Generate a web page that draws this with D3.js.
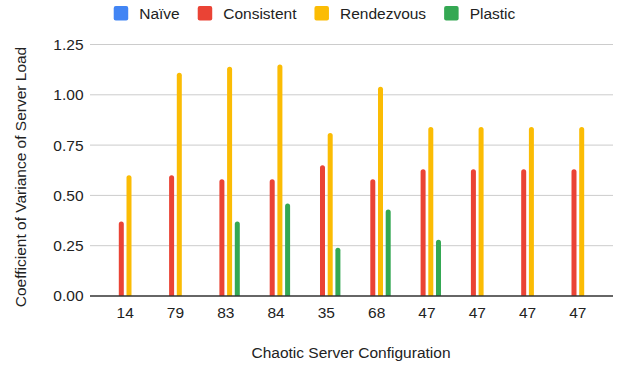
<!DOCTYPE html>
<html>
<head>
<meta charset="utf-8">
<script src="https://cdn.jsdelivr.net/npm/d3@7"></script>
<style>
  html, body { margin: 0; padding: 0; background: #fff; }
  svg { display: block; font-family: "Liberation Sans", Arial, sans-serif; }
</style>
</head>
<body>
<svg id="chart" width="626" height="366"></svg>
<script>
const categories = ["14", "79", "83", "84", "35", "68", "47", "47", "47", "47"];
const seriesNames = ["Naïve", "Consistent", "Rendezvous", "Plastic"];
const naive      = [0, 0, 0, 0, 0, 0, 0, 0, 0, 0];
const consistent = [0.37, 0.60, 0.58, 0.58, 0.65, 0.58, 0.63, 0.63, 0.63, 0.63];
const rendezvous = [0.60, 1.11, 1.14, 1.15, 0.81, 1.04, 0.84, 0.84, 0.84, 0.84];
const plastic    = [0, 0, 0.37, 0.46, 0.24, 0.43, 0.28, 0, 0, 0];
const yTicks = [0, 0.25, 0.5, 0.75, 1.0, 1.25];
const colors = ["#4285F4", "#EA4335", "#FBBC04", "#34A853"];
const yTitle = "Coefficient of Variance of Server Load";
const xTitle = "Chaotic Server Configuration";

const seriesValues = [naive, consistent, rendezvous, plastic];
const svg = d3.select("#chart");
const fontSize = 15.5;
const ff = "'Liberation Sans', Arial, sans-serif";

const gridLeft = 90, gridRight = 613;
const x0 = d3.scaleBand().domain(d3.range(categories.length)).range([100, 603]).padding(0);
const x1 = d3.scaleBand().domain(d3.range(seriesNames.length)).range([-14.05, 14.05]).paddingInner(0.35).paddingOuter(0);
const y = d3.scaleLinear().domain([0, 1.25]).range([296, 44.5]);

// gridlines
svg.append("g").selectAll("line").data(yTicks.filter(t => t !== 0)).join("line")
  .attr("x1", gridLeft).attr("x2", gridRight)
  .attr("y1", d => y(d)).attr("y2", d => y(d))
  .attr("stroke", "#cccccc").attr("stroke-width", 1);

// y axis labels
const yAxis = d3.axisLeft(y).tickValues(yTicks).tickFormat(d3.format(".2f")).tickSize(0).tickPadding(0);
const gy = svg.append("g").attr("transform", `translate(83.5,0)`).call(yAxis);
gy.select(".domain").remove();
gy.selectAll("text").attr("font-size", fontSize).attr("fill", "#222").attr("font-family", ff);

// bars
function barPath(x, yTop, w, yBase, r) {
  const h = yBase - yTop;
  if (h <= 0) return "";
  r = Math.min(r, w / 2, h);
  return `M${x},${yBase}V${yTop + r}Q${x},${yTop} ${x + r},${yTop}H${x + w - r}Q${x + w},${yTop} ${x + w},${yTop + r}V${yBase}Z`;
}
const rows = [];
categories.forEach((c, i) => {
  seriesValues.forEach((vals, s) => rows.push({ i, s, v: vals[i] }));
});
svg.append("g").selectAll("path").data(rows.filter(d => d.v > 0)).join("path")
  .attr("d", d => barPath(x0(d.i) + x0.bandwidth() / 2 + x1(d.s), y(d.v), x1.bandwidth(), y(0), 2.5))
  .attr("fill", d => colors[d.s]);

// x baseline
svg.append("line").attr("x1", gridLeft).attr("x2", gridRight)
  .attr("y1", y(0)).attr("y2", y(0))
  .attr("stroke", "#333333").attr("stroke-width", 1.3);

// x axis labels
const xAxis = d3.axisBottom(x0).tickFormat(i => categories[i]).tickSize(0).tickPadding(0);
const gx = svg.append("g").attr("transform", `translate(0,${y(0)})`).call(xAxis);
gx.select(".domain").remove();
gx.selectAll("text").attr("dy", null).attr("y", 22).attr("font-size", fontSize).attr("fill", "#222")
  .attr("font-family", ff);

// axis titles
svg.append("text").attr("x", 351).attr("y", 358).attr("text-anchor", "middle")
  .attr("font-size", fontSize).attr("fill", "#222").text(xTitle);
svg.append("text").attr("transform", "translate(26,177) rotate(-90)").attr("text-anchor", "middle")
  .attr("font-size", fontSize).attr("fill", "#222").text(yTitle);

// legend
const lg = svg.append("g");
let cx = 0;
seriesNames.forEach((name, s) => {
  const g = lg.append("g").attr("transform", `translate(${cx},0)`);
  g.append("rect").attr("x", 0).attr("y", 6).attr("width", 14.5).attr("height", 14.5).attr("rx", 2).attr("fill", colors[s]);
  const t = g.append("text").attr("x", 25.5).attr("y", 19).attr("font-size", fontSize).attr("fill", "#222").text(name);
  cx += 25.5 + t.node().getComputedTextLength() + 18;
});
const lw = cx - 18;
lg.attr("transform", `translate(${(113 + 516) / 2 - lw / 2},0)`);
</script>
</body>
</html>
